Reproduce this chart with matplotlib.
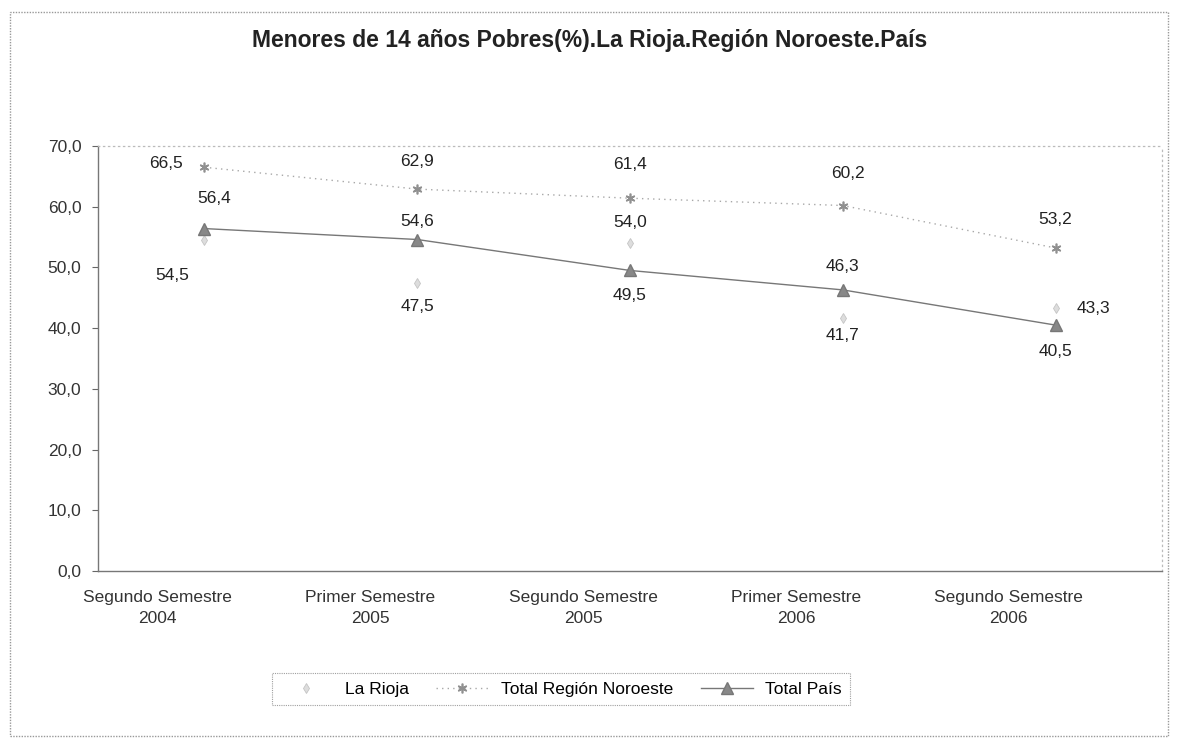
import matplotlib
matplotlib.use("Agg")
import matplotlib.pyplot as plt
from matplotlib.patches import Rectangle

plt.rcParams['font.family'] = ['Liberation Sans', 'DejaVu Sans']

categories = ["Segundo Semestre\n2004", "Primer Semestre\n2005", "Segundo Semestre\n2005",
              "Primer Semestre\n2006", "Segundo Semestre\n2006"]
la_rioja = [54.5, 47.5, 54.0, 41.7, 43.3]
noroeste = [66.5, 62.9, 61.4, 60.2, 53.2]
pais = [56.4, 54.6, 49.5, 46.3, 40.5]
yticks = [0, 10, 20, 30, 40, 50, 60, 70]
title = "Menores de 14 años Pobres(%).La Rioja.Región Noroeste.País"

# label offsets in pixels (dx, dy)
off_rioja = [(-32, -35), (0, -24), (0, 21), (0, -18), (38, 0)]
off_noro = [(-38, 4), (0, 28), (0, 34), (5, 32), (0, 29)]
off_pais = [(10, 30), (0, 18), (0, -25), (0, 23), (0, -26)]

fig = plt.figure(figsize=(11.78, 7.42), dpi=100)
ax = fig.add_axes([98/1178, 1 - 571/742, (1162-98)/1178, (571-146)/742])

x = list(range(len(categories)))

ax.plot(x, la_rioja, ls="none", marker="d", ms=5,
        mfc="#dddddd", mec="#c4c4c4", mew=0.6, label="La Rioja", zorder=3)
ax.plot(x, noroeste, color="#a8a8a8", lw=1.0, ls=(0, (1, 3)), marker=(6, 2, 0), ms=7,
        mec="#909090", mew=1.2, label="Total Región Noroeste", zorder=3)
ax.plot(x, pais, color="#777777", lw=1.0, marker="^", ms=8, mfc="#888888", mec="#777777",
        label="Total País", zorder=4)

def annot(vals, offs):
    for xi, v, (dx, dy) in zip(x, vals, offs):
        ax.annotate(f"{v:.1f}".replace(".", ","), (xi, v), xytext=(dx, dy),
                    textcoords="offset pixels", ha="center", va="center",
                    fontsize=12.5, color="#222222")

annot(la_rioja, off_rioja)
annot(noroeste, off_noro)
annot(pais, off_pais)

ax.set_xlim(-0.5, 4.5)
ax.set_ylim(0, 70)
ax.set_yticks(yticks)
ax.set_yticklabels([f"{t:.1f}".replace(".", ",") for t in yticks], fontsize=12.5, color="#333333")
ax.set_xticks([xi - 0.22 for xi in x])
ax.set_xticklabels(categories, fontsize=12.5, color="#333333", linespacing=1.5)
ax.tick_params(axis="x", length=0, pad=14)
ax.tick_params(axis="y", length=4, direction="out", color="#666666", pad=8)

for s in ["top", "right"]:
    ax.spines[s].set_color("#bbbbbb")
    ax.spines[s].set_linestyle((0, (1, 3)))
    ax.spines[s].set_linewidth(0.9)
for s in ["left", "bottom"]:
    ax.spines[s].set_color("#777777")
    ax.spines[s].set_linewidth(1.0)

fig.text(590/1178, 1 - 40/742, title, ha="center", va="center", fontsize=16.5,
         fontweight="bold", color="#222222")

leg = fig.legend(loc="center", bbox_to_anchor=(561/1178, 1 - 689/742), ncol=3,
                 frameon=True, fontsize=12.5, handlelength=3.0, columnspacing=1.6,
                 handletextpad=0.7, borderpad=0.5, borderaxespad=0, fancybox=False)
leg.get_frame().set_edgecolor("#888888")
leg.get_frame().set_linestyle((0, (1, 1)))
leg.get_frame().set_linewidth(0.8)

fig.patches.append(Rectangle((10/1178, 1 - 736/742), 1158/1178, 724/742,
                             transform=fig.transFigure, fill=False,
                             edgecolor="#999999", lw=1.0, ls=(0, (1, 1))))

fig.savefig("out.png", dpi=100)
